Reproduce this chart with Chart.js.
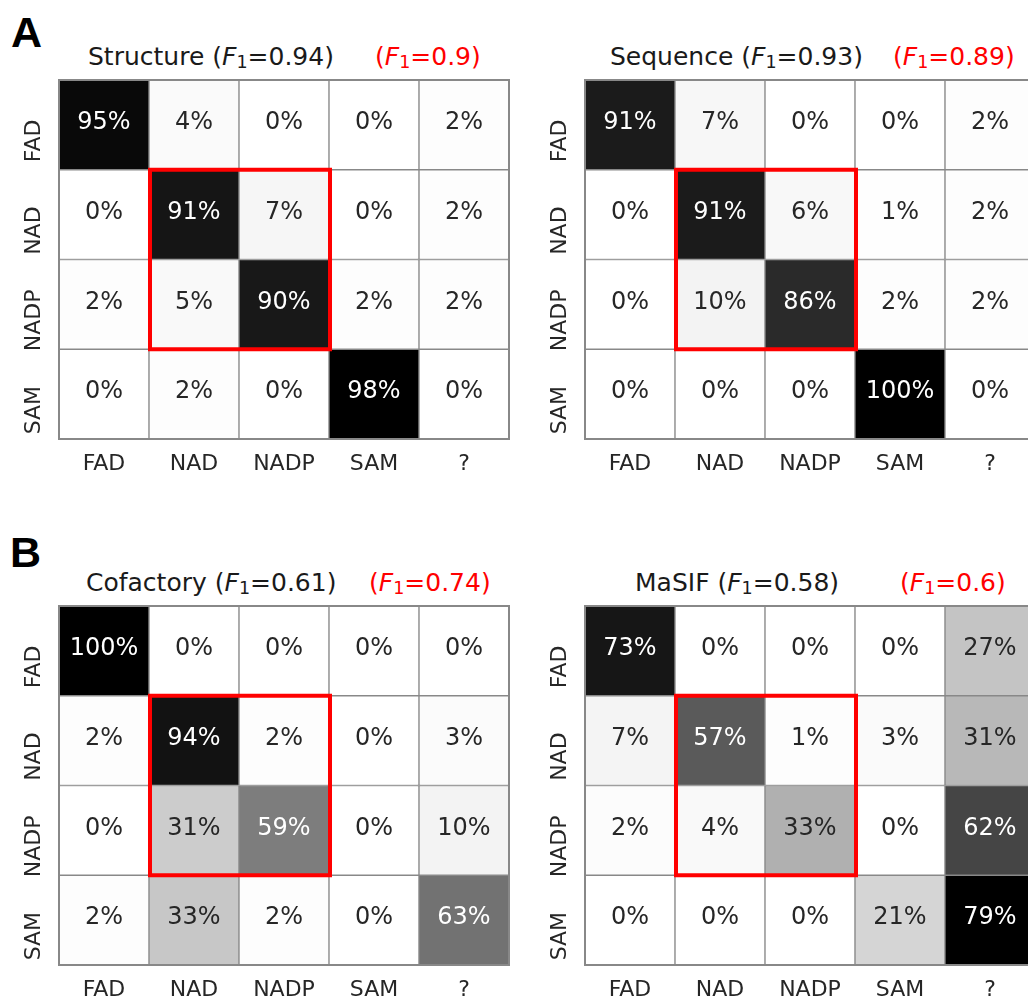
<!DOCTYPE html>
<html>
<head>
<meta charset="utf-8">
<script src="https://cdn.jsdelivr.net/npm/chart.js@4.4.1/dist/chart.umd.min.js"></script>
<style>
  html, body { margin: 0; padding: 0; background: #fff; overflow: hidden; }
  #fig { position: relative; width: 1028px; height: 1000px; overflow: hidden; font-family: "DejaVu Sans", sans-serif; }
  .letter { position: absolute; font-family: "Liberation Sans", Arial, sans-serif; font-weight: bold; font-size: 43px; line-height: 43px; color: #000; }
  .title { position: absolute; font-size: 25px; line-height: 25px; white-space: nowrap; color: #1a1a1a; }
  .title.red { color: #ff0000; }
  .title .sub { font-size: 70%; position: relative; top: 0.15em; }
  canvas { position: absolute; }
</style>
</head>
<body>
<div id="fig">
  <div class="letter" style="left:11px;top:11px;">A</div>
  <div class="letter" style="left:10px;top:531px;">B</div>

  <div class="title" id="t0" style="left:88px;top:44px;"></div>
  <div class="title red" id="r0" style="left:375px;top:44px;"></div>
  <div class="title" id="t1" style="left:610px;top:44px;"></div>
  <div class="title red" id="r1" style="left:893px;top:44px;"></div>
  <div class="title" id="t2" style="left:86px;top:570px;"></div>
  <div class="title red" id="r2" style="left:369px;top:570px;"></div>
  <div class="title" id="t3" style="left:635px;top:570px;"></div>
  <div class="title red" id="r3" style="left:900px;top:570px;"></div>

  <canvas id="c0" width="520" height="420" style="left:0px;top:70px;"></canvas>
  <canvas id="c1" width="520" height="420" style="left:526px;top:70px;"></canvas>
  <canvas id="c2" width="520" height="420" style="left:0px;top:596px;"></canvas>
  <canvas id="c3" width="520" height="420" style="left:526px;top:596px;"></canvas>
</div>
<script>
// Predicted classes (columns) and true classes (rows)
const predClasses = ['FAD', 'NAD', 'NADP', 'SAM', '?'];
const trueClasses = ['FAD', 'NAD', 'NADP', 'SAM'];

// Row-normalised confusion matrices, in percent
const structurePct = [
  [95, 4, 0, 0, 2],
  [0, 91, 7, 0, 2],
  [2, 5, 90, 2, 2],
  [0, 2, 0, 98, 0]
];
const sequencePct = [
  [91, 7, 0, 0, 2],
  [0, 91, 6, 1, 2],
  [0, 10, 86, 2, 2],
  [0, 0, 0, 100, 0]
];
const cofactoryPct = [
  [100, 0, 0, 0, 0],
  [2, 94, 2, 0, 3],
  [0, 31, 59, 0, 10],
  [2, 33, 2, 0, 63]
];
const masifPct = [
  [73, 0, 0, 0, 27],
  [7, 57, 1, 3, 31],
  [2, 4, 33, 0, 62],
  [0, 0, 0, 21, 79]
];

// Panel names and F1 scores (black: all classes, red: NAD/NADP block)
const methodNames = ['Structure', 'Sequence', 'Cofactory', 'MaSIF'];
const f1Overall = ['0.94', '0.93', '0.61', '0.58'];
const f1Highlight = ['0.9', '0.89', '0.74', '0.6'];

// Classes enclosed by the red box
const boxedClasses = ['NAD', 'NADP'];

const matrices = [structurePct, sequencePct, cofactoryPct, masifPct];

const GRID_GREY = '#888888';
const DARK_TEXT = '#262626';
const FONT = '"DejaVu Sans", sans-serif';

// Matplotlib "Greys" colormap stops
const greyStops = [255, 240, 217, 189, 150, 115, 82, 37, 0];
function greyLevel(t) {
  t = Math.max(0, Math.min(1, t));
  const p = t * (greyStops.length - 1);
  const i = Math.min(Math.floor(p), greyStops.length - 2);
  const f = p - i;
  return greyStops[i] + (greyStops[i + 1] - greyStops[i]) * f;
}
function greyColor(t) {
  const g = Math.round(greyLevel(t));
  return `rgb(${g},${g},${g})`;
}
function textColorFor(t) {
  const c = greyLevel(t) / 255;
  const lin = c <= 0.03928 ? c / 12.92 : Math.pow((c + 0.055) / 1.055, 2.4);
  return lin > 0.408 ? DARK_TEXT : '#ffffff';
}

function f1Html(val) {
  return `(<i>F</i><span class="sub">1</span>=${val})`;
}
methodNames.forEach((name, k) => {
  document.getElementById('t' + k).innerHTML = `${name} ${f1Html(f1Overall[k])}`;
  document.getElementById('r' + k).innerHTML = f1Html(f1Highlight[k]);
});

// Draws the percentages, the outer frame and the red NAD/NADP box
const cellDecor = {
  id: 'cellDecor',
  afterDatasetsDraw(chart) {
    const ctx = chart.ctx;
    const vmax = chart.options.plugins.cellDecor.vmax;
    ctx.save();
    ctx.font = `24px ${FONT}`;
    ctx.textAlign = 'center';
    ctx.textBaseline = 'middle';
    chart.data.datasets.forEach((ds, i) => {
      chart.getDatasetMeta(i).data.forEach((bar, j) => {
        const v = ds.data[j].v;
        ctx.fillStyle = textColorFor(v / vmax);
        ctx.fillText(v + '%', bar.x, (bar.y + bar.base) / 2 - 2);
      });
    });

    const a = chart.chartArea;
    ctx.strokeStyle = GRID_GREY;
    ctx.lineWidth = 2;
    ctx.strokeRect(a.left, a.top, a.right - a.left, a.bottom - a.top);

    const xs = chart.scales.x, ys = chart.scales.y;
    const half = (xs.getPixelForValue(1) - xs.getPixelForValue(0)) / 2;
    const c0 = predClasses.indexOf(boxedClasses[0]);
    const c1 = predClasses.indexOf(boxedClasses[boxedClasses.length - 1]);
    const r0 = trueClasses.indexOf(boxedClasses[0]);
    const r1 = trueClasses.indexOf(boxedClasses[boxedClasses.length - 1]);
    const left = xs.getPixelForValue(c0) - half;
    const right = xs.getPixelForValue(c1) + half;
    const top = ys.getPixelForValue(r0);
    const bottom = ys.getPixelForValue(r1 + 1);
    ctx.strokeStyle = '#ff0000';
    ctx.lineWidth = 4;
    ctx.strokeRect(left + 1, top, right - left, bottom - top);
    ctx.restore();
  }
};

function drawMatrix(canvasId, matrix) {
  const vmax = Math.max(...matrix.flat());
  const datasets = trueClasses.map((name, i) => ({
    label: name,
    data: predClasses.map((c, j) => ({ x: c, y: [i, i + 1], v: matrix[i][j] })),
    backgroundColor: (ctx) => greyColor(ctx.raw.v / vmax),
    borderColor: GRID_GREY,
    borderWidth: 1,
    borderSkipped: false,
    grouped: false,
    barPercentage: 1,
    categoryPercentage: 1
  }));

  new Chart(document.getElementById(canvasId), {
    type: 'bar',
    data: { labels: predClasses, datasets },
    options: {
      responsive: false,
      animation: false,
      devicePixelRatio: 1,
      layout: { padding: { top: 10, right: 11, bottom: 0, left: 0 } },
      plugins: {
        legend: { display: false },
        tooltip: { enabled: false },
        title: { display: false },
        cellDecor: { vmax }
      },
      scales: {
        x: {
          type: 'category',
          position: 'bottom',
          offset: true,
          grid: { display: false, drawTicks: false },
          border: { display: false },
          ticks: {
            font: { family: FONT, size: 22 },
            color: DARK_TEXT,
            padding: 12,
            minRotation: 0,
            maxRotation: 0,
            autoSkip: false
          },
          afterFit: (s) => { s.height = 51; }
        },
        y: {
          type: 'linear',
          min: 0,
          max: trueClasses.length,
          reverse: true,
          grid: { display: false, drawTicks: false },
          border: { display: false },
          afterBuildTicks: (s) => { s.ticks = trueClasses.map((_, i) => ({ value: i + 0.5 })); },
          ticks: {
            font: { family: FONT, size: 22 },
            color: DARK_TEXT,
            padding: -6,
            crossAlign: 'center',
            labelOffset: 16,
            minRotation: 90,
            maxRotation: 90,
            callback: (value, index) => trueClasses[index]
          },
          afterFit: (s) => { s.width = 59; }
        }
      }
    },
    plugins: [cellDecor]
  });
}

matrices.forEach((m, k) => drawMatrix('c' + k, m));
</script>
</body>
</html>
